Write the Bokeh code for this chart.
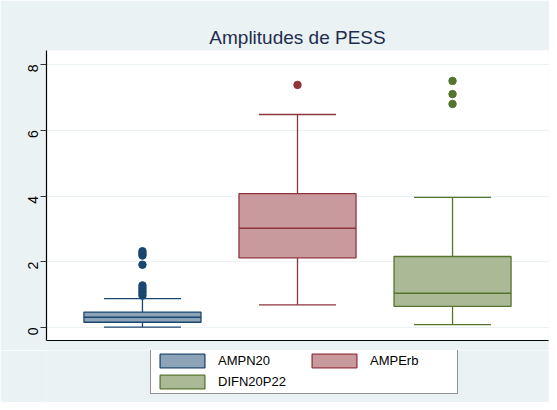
import math
from bokeh.plotting import figure
from bokeh.layouts import column
from bokeh.models import Legend, LegendItem, Range1d, FixedTicker
from bokeh.embed import file_html
from bokeh.resources import INLINE

# ---- data ----
series = ["AMPN20", "AMPErb", "DIFN20P22"]
positions = [1, 2, 3]
lower_whisker = [0.01, 0.69, 0.09]
q1 = [0.16, 2.12, 0.64]
median = [0.31, 3.02, 1.04]
q3 = [0.47, 4.07, 2.16]
upper_whisker = [0.88, 6.48, 3.96]
outliers = [
    [0.97, 1.05, 1.12, 1.2, 1.28, 1.91, 2.19, 2.25, 2.32],
    [7.38],
    [6.80, 7.10, 7.50],
]
y_ticks = [0, 2, 4, 6, 8]
title_text = "Amplitudes de PESS"

line_colors = ["#1A476F", "#90353B", "#55752F"]
fill_colors = ["#8CA3B8", "#C8999D", "#AABA96"]
bg = "#EAF2F3"

p = figure(width=549, height=350, output_backend="svg", toolbar_location=None,
           x_range=Range1d(0.381, 3.619), y_range=Range1d(-0.395, 8.426),
           min_border_left=46, min_border_top=50, min_border_right=1, min_border_bottom=10)
p.border_fill_color = bg
p.background_fill_color = "white"
p.outline_line_color = None

p.title.text = title_text
p.title.align = "center"
p.title.text_font = "Liberation Sans"
p.title.text_font_size = "19px"
p.title.text_font_style = "normal"
p.title.text_color = "#1E2D50"
p.title.standoff = 6

box_w = 0.755
cap_w = 0.497
for i, name in enumerate(series):
    x = positions[i]
    lc, fc = line_colors[i], fill_colors[i]
    # whiskers
    p.segment(x0=[x, x], y0=[q3[i], q1[i]], x1=[x, x], y1=[upper_whisker[i], lower_whisker[i]],
              line_color=lc, line_width=1.3)
    p.segment(x0=[x - cap_w / 2] * 2, y0=[upper_whisker[i], lower_whisker[i]],
              x1=[x + cap_w / 2] * 2, y1=[upper_whisker[i], lower_whisker[i]],
              line_color=lc, line_width=1.3)
    # box
    p.quad(left=[x - box_w / 2], right=[x + box_w / 2], bottom=[q1[i]], top=[q3[i]],
           fill_color=fc, line_color=lc, line_width=1.3)
    p.segment(x0=[x - box_w / 2], y0=[median[i]], x1=[x + box_w / 2], y1=[median[i]],
              line_color=lc, line_width=1.6)
    # outliers
    p.scatter(x=[x] * len(outliers[i]), y=outliers[i], size=7.5, marker="circle",
              fill_color=lc, line_color=lc)

# axes
p.xaxis.ticker = FixedTicker(ticks=[])
p.xaxis.major_tick_out = 0
p.xaxis.major_tick_in = 0
p.xaxis.major_label_standoff = 0
p.xaxis.minor_tick_line_color = None
p.xaxis.axis_line_color = "#000000"
p.xaxis.axis_line_width = 1.2

p.yaxis.ticker = FixedTicker(ticks=y_ticks)
p.yaxis.minor_tick_line_color = None
p.yaxis.major_tick_out = 6
p.yaxis.major_tick_in = 0
p.yaxis.major_tick_line_color = "#333333"
p.yaxis.axis_line_color = "#000000"
p.yaxis.axis_line_width = 1.2
p.yaxis.major_label_orientation = math.pi / 2
p.yaxis.major_label_text_font = "Liberation Sans"
p.yaxis.major_label_text_font_size = "14px"
p.yaxis.major_label_text_color = "#000000"
p.yaxis.major_label_standoff = 7

p.xgrid.grid_line_color = None
p.ygrid.ticker = FixedTicker(ticks=y_ticks)
p.ygrid.grid_line_color = bg
p.ygrid.grid_line_width = 1.2

# ---- legend strip (second figure; swatches reuse the box glyph styles) ----
p2 = figure(width=549, height=52, output_backend="svg", toolbar_location=None,
            x_range=Range1d(0, 1), y_range=Range1d(0, 1),
            x_axis_location=None, y_axis_location=None, min_border=0)
p2.border_fill_color = bg
p2.background_fill_color = bg
p2.outline_line_color = None
p2.grid.grid_line_color = None

legend_renderers = {}
for i, name in enumerate(series):
    # placed outside the visible range: only used for the legend swatch
    legend_renderers[name] = p2.quad(left=[5], right=[6], bottom=[5], top=[6],
                                     fill_color=fill_colors[i], line_color=line_colors[i],
                                     line_width=1.3)

# legend fills column-first: col 1 = AMPN20, DIFN20P22 ; col 2 = AMPErb
legend_order = ["AMPN20", "DIFN20P22", "AMPErb"]
items = [LegendItem(label=n, renderers=[legend_renderers[n]]) for n in legend_order]

legend = Legend(items=items, ncols=2, location=(104, 8),
                glyph_width=56, glyph_height=17, label_width=84, label_standoff=8,
                spacing=4, padding=3, margin=0,
                label_text_font="Liberation Sans", label_text_font_size="13px",
                label_text_color="#000000", label_height=17,
                border_line_color="#222222", border_line_width=1,
                background_fill_color="white", background_fill_alpha=1.0)
p2.add_layout(legend, "center")

layout = column(p, p2, spacing=0)
open("out.html", "w").write(file_html(layout, INLINE))
